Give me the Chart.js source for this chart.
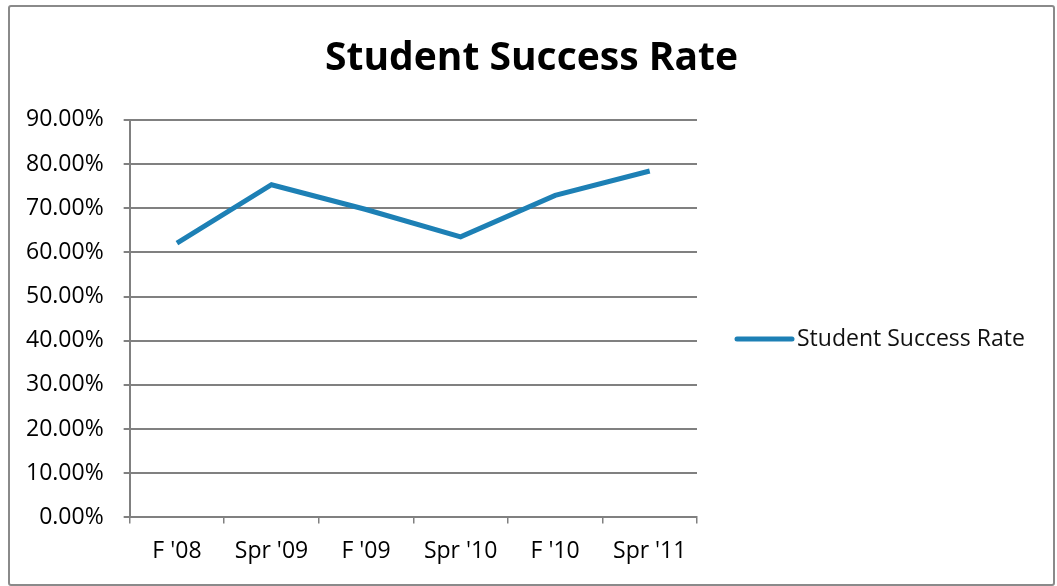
<!DOCTYPE html>
<html>
<head>
<meta charset="utf-8">
<script src="https://cdn.jsdelivr.net/npm/chart.js@4/dist/chart.umd.min.js"></script>
<style>
  html, body { margin: 0; padding: 0; background: #fff; }
  #wrap { position: relative; width: 1057px; height: 586px; }
  #frame {
    position: absolute; left: 8px; top: 5px; width: 1043px; height: 577px;
    border: 2px solid #8a8a8a; border-radius: 3px; pointer-events: none;
  }
</style>
</head>
<body>
<div id="wrap">
  <canvas id="rateChart" width="1057" height="586"></canvas>
  <div id="frame"></div>
</div>
<script>
  // chart data
  const terms = ["F '08", "Spr '09", "F '09", "Spr '10", "F '10", "Spr '11"];
  const successRate = [0.621, 0.753, 0.697, 0.635, 0.729, 0.784];
  const yTicks = [0, 0.1, 0.2, 0.3, 0.4, 0.5, 0.6, 0.7, 0.8, 0.9];

  const gridGray = '#808080';
  const lineBlue = '#1d80b5';
  const font = '"Open Sans", sans-serif';

  // legend drawn to the right of the plot (built-in one gets squeezed)
  const sideLegend = {
    id: 'sideLegend',
    afterDraw(chart) {
      const c = chart.ctx;
      const area = chart.chartArea;
      const ds = chart.data.datasets[0];
      const x0 = area.right + 40;
      const y = 339;
      c.save();
      c.strokeStyle = ds.borderColor;
      c.lineWidth = 5;
      c.lineCap = 'round';
      c.beginPath();
      c.moveTo(x0, y);
      c.lineTo(x0 + 55, y);
      c.stroke();
      c.fillStyle = '#111';
      c.font = '23px ' + font;
      c.textBaseline = 'middle';
      c.fillText(ds.label, x0 + 60, y);
      c.restore();
    }
  };

  const ctx = document.getElementById('rateChart').getContext('2d');
  new Chart(ctx, {
    type: 'line',
    data: {
      labels: terms,
      datasets: [{
        label: 'Student Success Rate',
        data: successRate,
        borderColor: lineBlue,
        backgroundColor: lineBlue,
        borderWidth: 5,
        pointRadius: 0,
        tension: 0,
        fill: false
      }]
    },
    options: {
      responsive: false,
      animation: false,
      layout: { padding: { left: 6, right: 0, top: 0, bottom: 7 } },
      plugins: {
        title: {
          display: true,
          text: 'Student Success Rate',
          color: '#000',
          font: { family: font, size: 39, weight: 'bold' },
          padding: { top: 35, bottom: 38 }
        },
        legend: { display: false },
        tooltip: { enabled: false }
      },
      scales: {
        x: {
          offset: true,
          grid: { offset: true, drawOnChartArea: false, drawTicks: true, tickLength: 6, color: gridGray, lineWidth: 1.5 },
          border: { color: gridGray, width: 2 },
          ticks: { color: '#000', font: { family: font, size: 23 }, padding: 14, maxRotation: 0 }
        },
        y: {
          min: 0,
          max: 0.9,
          afterBuildTicks: (scale) => { scale.ticks = yTicks.map(v => ({ value: v })); },
          grid: { color: gridGray, lineWidth: 2, tickLength: 6 },
          border: { color: gridGray, width: 2 },
          ticks: {
            color: '#000',
            font: { family: font, size: 23 },
            padding: 20,
            callback: (v) => (v * 100).toFixed(2) + '%'
          }
        },
        // empty right-hand axis that only reserves room for the legend
        gap: {
          position: 'right',
          display: true,
          grid: { drawOnChartArea: false, drawTicks: false },
          border: { display: false },
          ticks: { display: false },
          afterFit: (scale) => { scale.width = 360; }
        }
      }
    },
    plugins: [sideLegend]
  });
</script>
</body>
</html>
